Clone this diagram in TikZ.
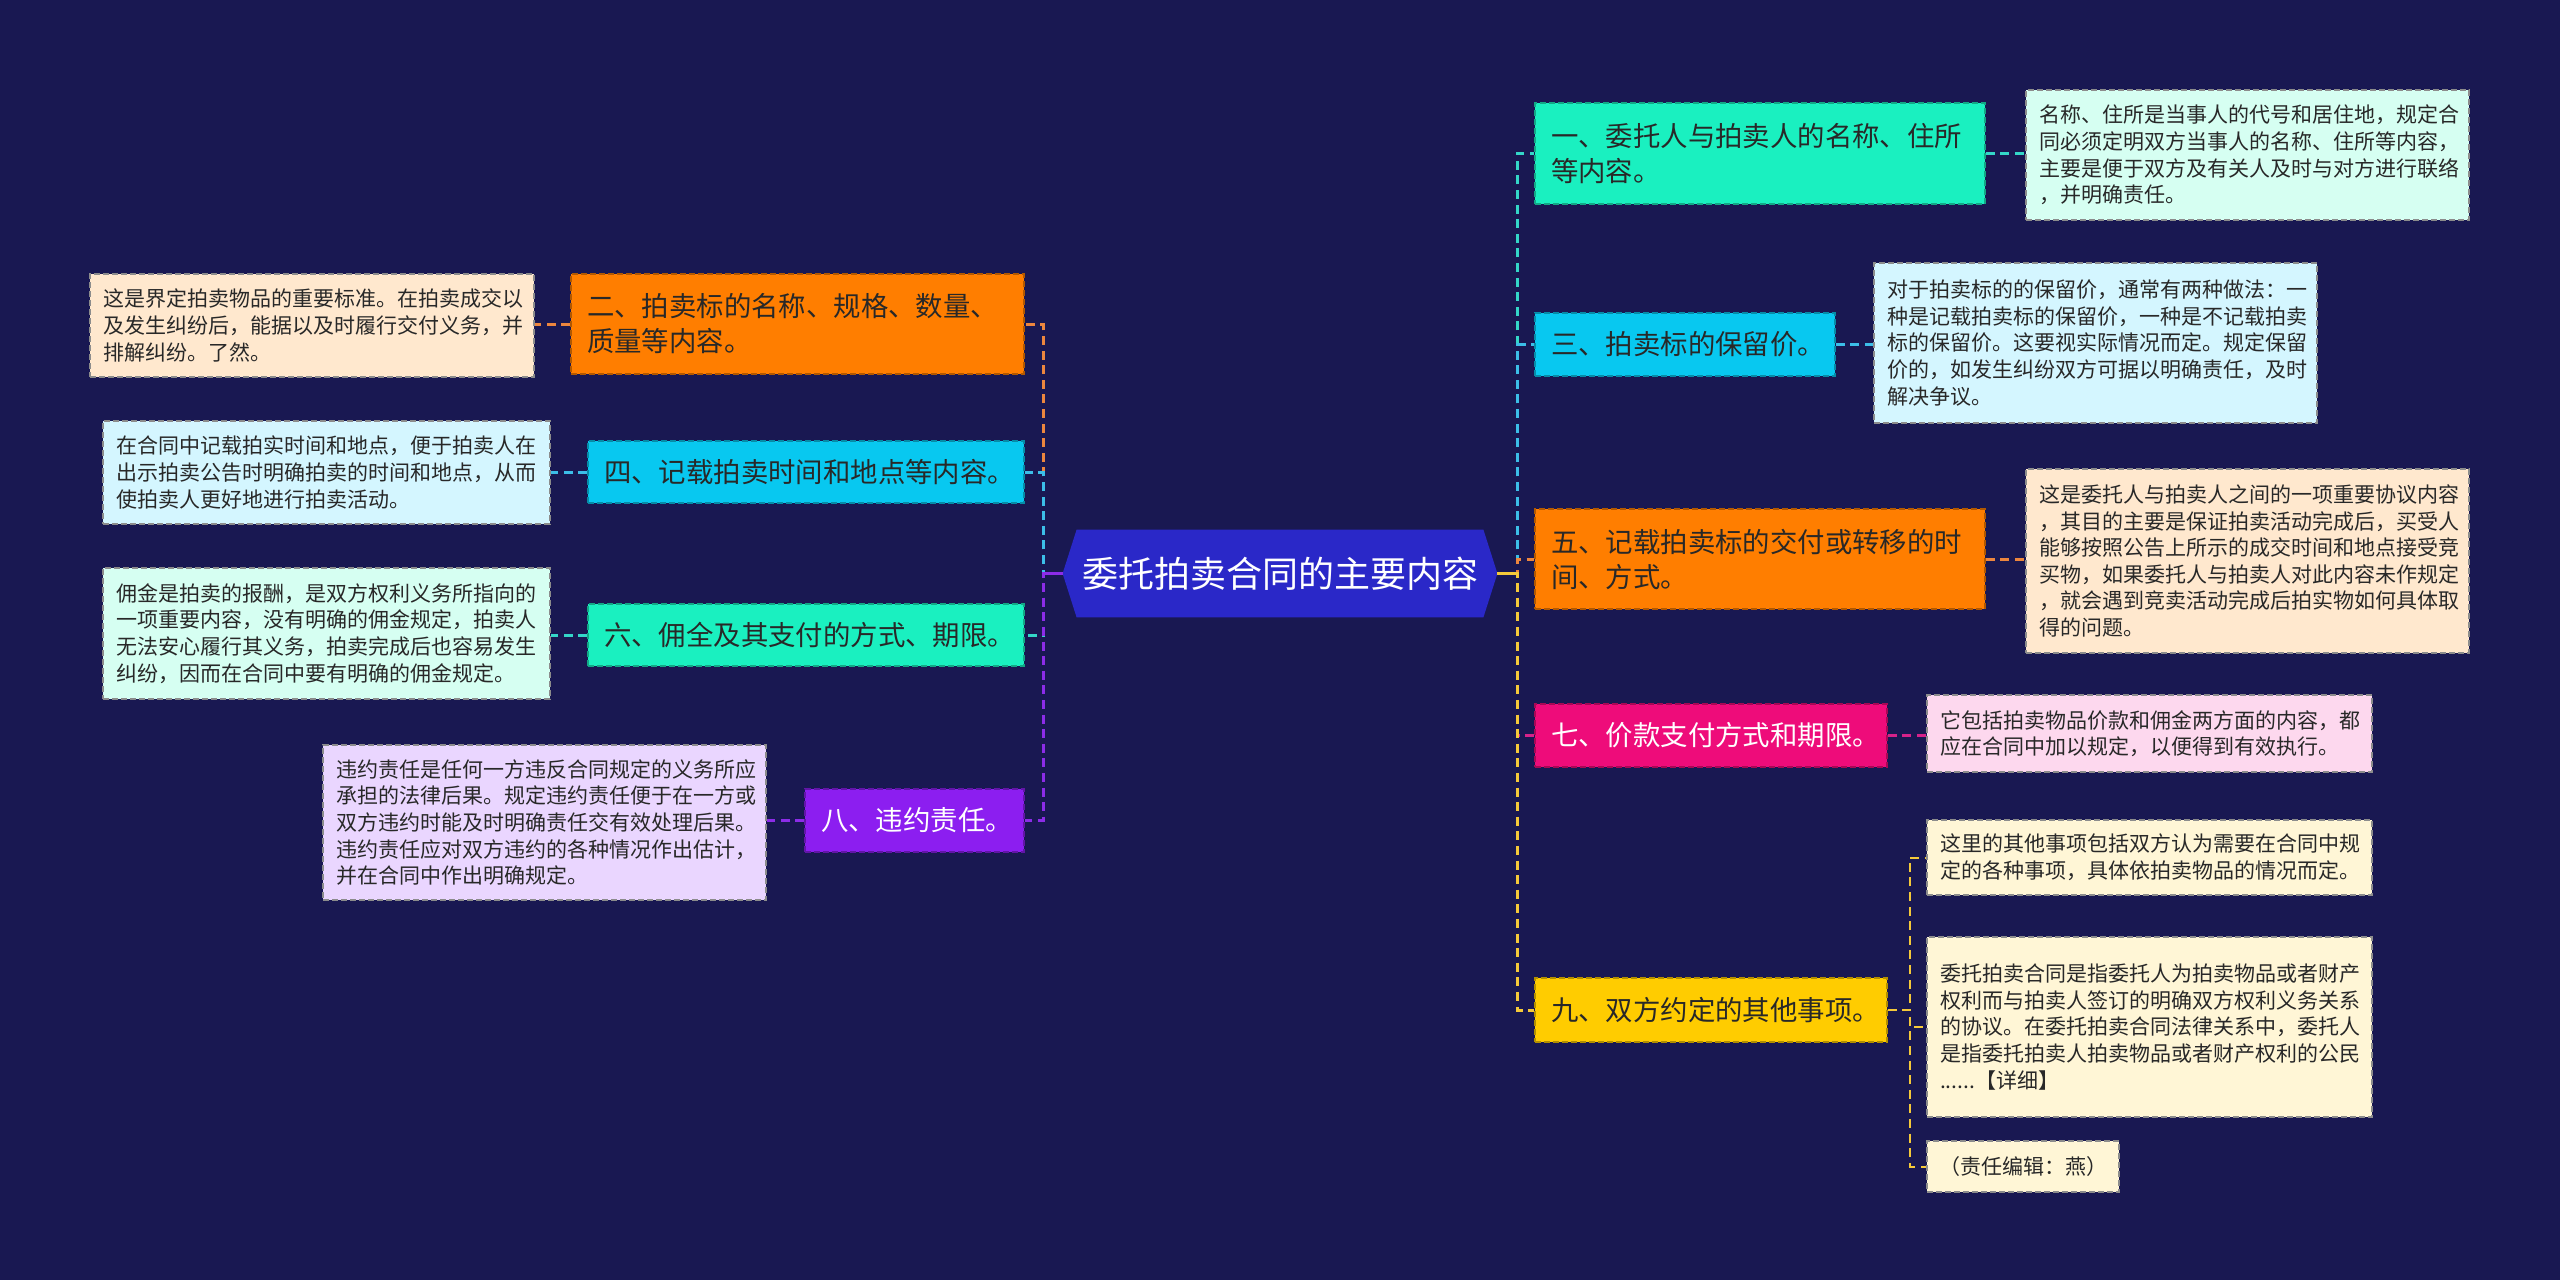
\documentclass[tikz,border=0pt]{standalone}
\usepackage{fontspec}
\setmainfont{Noto Sans CJK SC}
\usetikzlibrary{backgrounds}
\definecolor{bgc}{RGB}{25,24,82}
\definecolor{rootc}{RGB}{42,40,200}
\definecolor{orangec}{RGB}{255,126,0}
\definecolor{cyanc}{RGB}{8,200,240}
\definecolor{mintc}{RGB}{26,240,192}
\definecolor{purplec}{RGB}{140,30,240}
\definecolor{magentac}{RGB}{238,12,122}
\definecolor{yellowc}{RGB}{255,204,0}
\definecolor{dpeach}{RGB}{255,232,206}
\definecolor{dcyan}{RGB}{212,246,255}
\definecolor{dmint}{RGB}{214,255,242}
\definecolor{dlav}{RGB}{234,214,255}
\definecolor{dpink}{RGB}{253,216,238}
\definecolor{dyellow}{RGB}{255,246,214}
\definecolor{lorange}{RGB}{236,134,62}
\definecolor{lcyan}{RGB}{60,190,232}
\definecolor{lmint}{RGB}{52,214,200}
\definecolor{lpurple}{RGB}{140,44,232}
\definecolor{lmagenta}{RGB}{214,34,138}
\definecolor{lyellow}{RGB}{245,201,58}
\definecolor{txtc}{RGB}{40,40,40}
\tikzset{
  mainbox/.style={rectangle, dash pattern=on 3pt off 1.5pt, line width=0.6pt, align=left,
    inner xsep=8pt, inner ysep=2pt, text=txtc,
    font=\fontsize{13.7}{17.5}\selectfont},
  descbox/.style={rectangle, draw=black!45, dash pattern=on 3pt off 1.5pt, line width=0.6pt,
    align=left, inner xsep=6.5pt, inner ysep=2pt, text=txtc,
    font=\fontsize{10.5}{13.3}\selectfont},
  cn/.style={line width=1.5pt, dash pattern=on 4.5pt off 2.8pt},
}
\begin{document}
\begin{tikzpicture}[x=0.5pt,y=-0.5pt]
\useasboundingbox (0,0) rectangle (2560,1280);
% root
\node[text=white, font=\fontsize{18}{22}\selectfont, minimum width=217pt, minimum height=43.5pt, inner sep=0pt]
  (root) at (1280,573.5) {委托拍卖合同的主要内容};
\begin{scope}[on background layer]
\fill[bgc] (0,0) rectangle (2560,1280);
\fill[rootc] (root.west) -- ([xshift=7pt]root.north west) -- ([xshift=-7pt]root.north east)
  -- (root.east) -- ([xshift=-7pt]root.south east) -- ([xshift=7pt]root.south west) -- cycle;
\end{scope}
\coordinate (L) at (1043,573.5);
\coordinate (R) at (1517,573.5);
\coordinate (J9) at (1910,1010);

% left branches
\node[mainbox, fill=orangec, draw=orangec!70!black, text width=210.5pt, minimum height=50pt] (n2) at (797.5,324)
  {二、拍卖标的名称、规格、数量、\\质量等内容。};
\node[descbox, fill=dpeach, text width=209pt, minimum height=51.5pt] (d2) at (312,325.5)
  {这是界定拍卖物品的重要标准。在拍卖成交以\\及发生纠纷后，能据以及时履行交付义务，并\\排解纠纷。了然。};
\node[mainbox, fill=cyanc, draw=cyanc!70!black, text width=202pt, minimum height=31pt] (n4) at (806,472)
  {四、记载拍卖时间和地点等内容。};
\node[descbox, fill=dcyan, text width=210.5pt, minimum height=51.5pt] (d4) at (326.5,472.5)
  {在合同中记载拍实时间和地点，便于拍卖人在\\出示拍卖公告时明确拍卖的时间和地点，从而\\使拍卖人更好地进行拍卖活动。};
\node[mainbox, fill=mintc, draw=mintc!70!black, text width=202pt, minimum height=31pt] (n6) at (806,635)
  {六、佣全及其支付的方式、期限。};
\node[descbox, fill=dmint, text width=210.5pt, minimum height=65.5pt] (d6) at (326.5,633.5)
  {佣金是拍卖的报酬，是双方权利义务所指向的\\一项重要内容，没有明确的佣金规定，拍卖人\\无法安心履行其义务，拍卖完成后也容易发生\\纠纷，因而在合同中要有明确的佣金规定。};
\node[mainbox, fill=purplec, draw=purplec!70!black, text=white, text width=93.5pt, minimum height=31.5pt] (n8) at (914.5,820.5)
  {八、违约责任。};
\node[descbox, fill=dlav, text width=208.5pt, minimum height=77.5pt] (d8) at (544.5,822.5)
  {违约责任是任何一方违反合同规定的义务所应\\承担的法律后果。规定违约责任便于在一方或\\双方违约时能及时明确责任交有效处理后果。\\违约责任应对双方违约的各种情况作出估计，\\并在合同中作出明确规定。};

% right branches
\node[mainbox, fill=mintc, draw=mintc!70!black, text width=209pt, minimum height=50.5pt] (n1) at (1760,153.5)
  {一、委托人与拍卖人的名称、住所\\等内容。};
\node[descbox, fill=dmint, text width=208.5pt, minimum height=65pt] (d1) at (2247.5,155)
  {名称、住所是当事人的代号和居住地，规定合\\同必须定明双方当事人的名称、住所等内容，\\主要是便于双方及有关人及时与对方进行联络\\，并明确责任。};
\node[mainbox, fill=cyanc, draw=cyanc!70!black, text width=134pt, minimum height=31.5pt] (n3) at (1685,344.5)
  {三、拍卖标的保留价。};
\node[descbox, fill=dcyan, text width=208.5pt, minimum height=80pt] (d3) at (2095.5,343)
  {对于拍卖标的的保留价，通常有两种做法：一\\种是记载拍卖标的保留价，一种是不记载拍卖\\标的保留价。这要视实际情况而定。规定保留\\价的，如发生纠纷双方可据以明确责任，及时\\解决争议。};
\node[mainbox, fill=orangec, draw=orangec!70!black, text width=209pt, minimum height=50pt] (n5) at (1760,559)
  {五、记载拍卖标的交付或转移的时\\间、方式。};
\node[descbox, fill=dpeach, text width=208.5pt, minimum height=92pt] (d5) at (2247.5,561)
  {这是委托人与拍卖人之间的一项重要协议内容\\，其目的主要是保证拍卖活动完成后，买受人\\能够按照公告上所示的成交时间和地点接受竞\\买物，如果委托人与拍卖人对此内容未作规定\\，就会遇到竞卖活动完成后拍实物如何具体取\\得的问题。};
\node[mainbox, fill=magentac, draw=magentac!70!black, text=white, text width=160pt, minimum height=31.5pt] (n7) at (1711,735.5)
  {七、价款支付方式和期限。};
\node[descbox, fill=dpink, text width=209.5pt, minimum height=38.5pt] (d7) at (2149.5,733.5)
  {它包括拍卖物品价款和佣金两方面的内容，都\\应在合同中加以规定，以便得到有效执行。};
\node[mainbox, fill=yellowc, draw=yellowc!70!black, text width=160pt, minimum height=32pt] (n9) at (1711,1010)
  {九、双方约定的其他事项。};
\node[descbox, fill=dyellow, text width=209.5pt, minimum height=37.5pt] (d9a) at (2149.5,857.5)
  {这里的其他事项包括双方认为需要在合同中规\\定的各种事项，具体依拍卖物品的情况而定。};
\node[descbox, fill=dyellow, text width=209.5pt, minimum height=90pt] (d9b) at (2149.5,1027)
  {委托拍卖合同是指委托人为拍卖物品或者财产\\权利而与拍卖人签订的明确双方权利义务关系\\的协议。在委托拍卖合同法律关系中，委托人\\是指委托拍卖人拍卖物品或者财产权利的公民\\......【详细】};
\node[descbox, fill=dyellow, text width=90pt, inner xsep=3pt, align=center, minimum height=25.5pt] (d9c) at (2023,1166.5)
  {（责任编辑：燕）};

% connectors root -> main nodes
\draw[cn, lorange] (root.west) -- (L) |- (n2.east);
\draw[cn, lcyan] (root.west) -- (L) |- (n4.east);
\draw[cn, lmint] (root.west) -- (L) |- (n6.east);
\draw[cn, lpurple] (root.west) -- (L) |- (n8.east);
\draw[cn, lmint] (root.east) -- (R) |- (n1.west);
\draw[cn, lcyan] (root.east) -- (R) |- (n3.west);
\draw[cn, lorange] (root.east) -- (R) |- (n5.west);
\draw[cn, lmagenta] (root.east) -- (R) |- (n7.west);
\draw[cn, lyellow] (root.east) -- (R) |- (n9.west);
\draw[line width=1.5pt, lpurple] (root.west) -- (L);
\draw[line width=1.5pt, lyellow] (root.east) -- (R);

% connectors main -> description
\draw[cn, lorange] (n2.west) -- (n2.west -| d2.east);
\draw[cn, lcyan] (n4.west) -- (n4.west -| d4.east);
\draw[cn, lmint] (n6.west) -- (n6.west -| d6.east);
\draw[cn, lpurple] (n8.west) -- (n8.west -| d8.east);
\draw[cn, lmint] (n1.east) -- (n1.east -| d1.west);
\draw[cn, lcyan] (n3.east) -- (n3.east -| d3.west);
\draw[cn, lorange] (n5.east) -- (n5.east -| d5.west);
\draw[cn, lmagenta] (n7.east) -- (n7.east -| d7.west);
\draw[cn, lyellow, line width=1pt] (n9.east) -- (J9) |- (d9a.west);
\draw[cn, lyellow, line width=1pt] (n9.east) -- (J9) |- (d9b.west);
\draw[cn, lyellow, line width=1pt] (n9.east) -- (J9) |- (d9c.west);
\end{tikzpicture}
\end{document}
